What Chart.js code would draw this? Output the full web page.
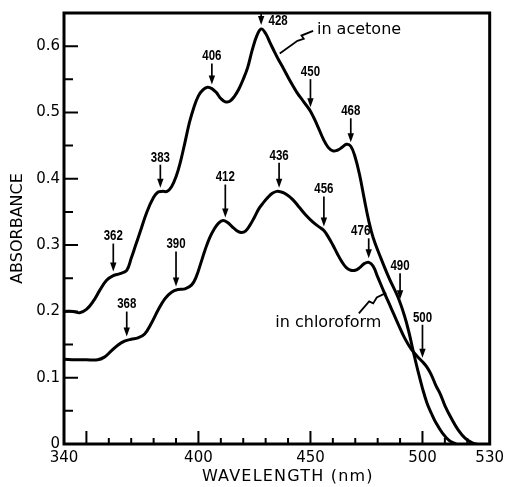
<!DOCTYPE html>
<html>
<head>
<meta charset="utf-8">
<script src="https://cdn.jsdelivr.net/npm/chart.js@4.4.0/dist/chart.umd.min.js"></script>
<style>
  body { margin: 0; background: #fff; }
  canvas { display: block; }
</style>
</head>
<body>
<canvas id="spectrum" width="509" height="487"></canvas>
<script>
// wavelength (nm) / absorbance
const acetoneNm  = [340, 344, 347, 350, 353, 356, 359, 362, 365, 368, 370, 372, 374, 377, 380, 382, 384, 386, 388, 390,
                    392, 394, 396, 398, 400, 402, 404, 406, 408, 410, 412, 414, 416, 418, 420, 422, 424, 426, 428, 430,
                    432, 434, 436, 438, 441, 444, 447, 450, 453, 456, 458, 460, 462, 464, 466, 468, 470, 472, 474, 476,
                    478, 481, 485, 489, 492, 494, 496, 498, 500, 502, 504, 506, 509, 512, 515];
const acetoneAbs = [.200, .200, .198, .203, .215, .232, .247, .254, .257, .262, .280, .300, .320, .350, .372, .380, .381, .381, .388, .403,
                    .426, .455, .485, .508, .525, .534, .538, .536, .530, .521, .516, .517, .524, .535, .550, .568, .594, .615, .626, .619,
                    .605, .591, .578, .566, .547, .530, .516, .502, .481, .458, .447, .442, .443, .447, .452, .449, .432, .405, .370, .337,
                    .311, .284, .251, .222, .193, .168, .138, .110, .084, .062, .046, .032, .016, .005, 0];

const chloroformNm  = [340, 345, 350, 355, 358, 361, 364, 367, 370, 373, 376, 379, 382, 385, 388, 391, 394, 397, 399, 401,
                       403, 405, 407, 409, 411, 413, 415, 417, 419, 421, 423, 425, 427, 429, 431, 433, 435, 437, 439, 442,
                       445, 448, 451, 454, 456, 458, 460, 462, 464, 466, 468, 470, 472, 474, 476, 478, 480, 483, 486, 489,
                       492, 495, 498, 500, 502, 504, 506, 508, 510, 513, 516, 519, 522, 524];
const chloroformAbs = [.128, .127, .127, .127, .131, .140, .149, .155, .158, .160, .166, .182, .202, .219, .229, .233, .234, .240, .252, .272,
                       .293, .311, .324, .333, .337, .334, .328, .322, .319, .321, .330, .342, .355, .364, .372, .378, .381, .380, .377, .369,
                       .357, .345, .335, .327, .322, .312, .300, .287, .275, .266, .262, .262, .266, .272, .274, .268, .252, .228, .205, .182,
                       .160, .143, .131, .124, .116, .104, .088, .075, .058, .038, .021, .009, .002, 0];

// marked band positions (nm)
const acetoneMarks    = [362, 383, 406, 428, 450, 468, 490];
const chloroformMarks = [368, 390, 412, 436, 456, 476, 500];

// axis labels
const xLabels = [340, 400, 450, 500, 530];
const yLabels = [0, 0.1, 0.2, 0.3, 0.4, 0.5, 0.6];

// annotation layout (px): label centre above arrow tip, sideways shift
const acetoneLift    = [35, 30, 28, 4, 35, 31, 33];
const chloroformLift = [32, 42, 40, 32, 37, 27, 40];
const labelShift = { 428: 17, 476: -8 };

function valueAt(nms, vals, nm) {
  for (let i = 1; i < nms.length; i++) {
    if (nm <= nms[i]) {
      const t = (nm - nms[i - 1]) / (nms[i] - nms[i - 1]);
      return vals[i - 1] + t * (vals[i] - vals[i - 1]);
    }
  }
  return vals[vals.length - 1];
}

function condText(ctx, txt, x, y) {
  ctx.save();
  ctx.translate(x, y);
  ctx.scale(0.82, 1);
  ctx.fillText(txt, 0, 0);
  ctx.restore();
}

const decor = {
  id: 'decor',
  afterDraw(chart) {
    const { ctx, chartArea: a, scales: { x, y } } = chart;
    ctx.save();
    ctx.strokeStyle = '#000';
    ctx.fillStyle = '#000';

    // frame
    ctx.lineWidth = 3;
    ctx.strokeRect(a.left, a.top, a.right - a.left, a.bottom - a.top);

    // inward ticks
    ctx.lineWidth = 2;
    ctx.beginPath();
    for (let v = 350; v < 530; v += 10) {
      const px = x.getPixelForValue(v);
      const len = v % 50 === 0 ? 13 : 6;
      ctx.moveTo(px, a.bottom);
      ctx.lineTo(px, a.bottom - len);
    }
    for (let k = 1; k <= 12; k++) {
      const py = y.getPixelForValue(k * 0.05);
      const len = k % 2 === 0 ? 14 : 9;
      ctx.moveTo(a.left, py);
      ctx.lineTo(a.left + len, py);
    }
    ctx.stroke();

    // arrows and band labels
    ctx.font = 'bold 14px "Liberation Sans", Arial, sans-serif';
    ctx.textAlign = 'center';
    ctx.textBaseline = 'middle';
    const drawMarks = (marks, lifts, nms, vals) => {
      marks.forEach((nm, i) => {
        const px = x.getPixelForValue(nm);
        const tip = y.getPixelForValue(valueAt(nms, vals, nm)) - 4;
        const shift = labelShift[nm] || 0;
        const ly = tip - lifts[i];
        const start = Math.abs(shift) > 12 ? a.top + 1 : ly + 7;
        ctx.lineWidth = 1.7;
        ctx.beginPath();
        ctx.moveTo(px, start);
        ctx.lineTo(px, tip - 6);
        ctx.stroke();
        ctx.beginPath();
        ctx.moveTo(px - 3.2, tip - 9);
        ctx.lineTo(px + 3.2, tip - 9);
        ctx.lineTo(px, tip);
        ctx.closePath();
        ctx.fill();
        condText(ctx, String(nm), px + shift, ly);
      });
    };
    drawMarks(acetoneMarks, acetoneLift, acetoneNm, acetoneAbs);
    drawMarks(chloroformMarks, chloroformLift, chloroformNm, chloroformAbs);

    // curve names with leader lines
    const P = (nm, v) => [x.getPixelForValue(nm), y.getPixelForValue(v)];
    const leader = pts => {
      ctx.lineWidth = 1.8;
      ctx.beginPath();
      pts.forEach(([nm, v], i) => {
        const [px, py] = P(nm, v);
        i ? ctx.lineTo(px, py) : ctx.moveTo(px, py);
      });
      ctx.stroke();
    };
    leader([[451.2, 0.623], [446.0, 0.616], [447.0, 0.611], [444.2, 0.608], [436.3, 0.589]]);
    leader([[471.6, 0.197], [476.2, 0.215], [478.0, 0.212], [479.6, 0.221], [483.8, 0.228]]);

    ctx.font = '16px "DejaVu Sans", sans-serif';
    ctx.textAlign = 'left';
    let [tx, ty] = P(452.9, 0.624);
    ctx.fillText('in acetone', tx, ty);
    [tx, ty] = P(434.3, 0.1825);
    ctx.fillText('in chloroform', tx, ty);

    // x axis title
    ctx.font = '16px "DejaVu Sans", sans-serif';
    ctx.letterSpacing = '1.2px';
    ctx.textAlign = 'center';
    ctx.fillText('WAVELENGTH (nm)', (a.left + a.right) / 2 + 11, 477);
    ctx.restore();
  }
};

const toPoints = (nms, vals) => nms.map((nm, i) => ({ x: nm, y: vals[i] }));

new Chart(document.getElementById('spectrum'), {
  type: 'line',
  data: {
    datasets: [
      { label: 'in acetone', data: toPoints(acetoneNm, acetoneAbs) },
      { label: 'in chloroform', data: toPoints(chloroformNm, chloroformAbs) }
    ]
  },
  options: {
    responsive: false,
    animation: false,
    layout: { padding: { top: 13, right: 16, bottom: 0, left: 0 } },
    elements: {
      line: { borderColor: '#000', borderWidth: 3, tension: 0.4, fill: false,
              borderJoinStyle: 'round', borderCapStyle: 'round' },
      point: { radius: 0 }
    },
    plugins: { legend: { display: false }, tooltip: { enabled: false } },
    scales: {
      x: {
        type: 'linear',
        min: 340,
        max: 530,
        afterBuildTicks: s => { s.ticks = xLabels.map(v => ({ value: v })); },
        afterFit: s => { s.height = 43; },
        grid: { display: false, drawTicks: false },
        border: { display: false },
        ticks: { color: '#000', padding: 5, maxRotation: 0, autoSkip: false,
                 font: { family: '"DejaVu Sans", sans-serif', size: 15 } }
      },
      y: {
        min: 0,
        max: 0.65,
        afterBuildTicks: s => { s.ticks = yLabels.map(v => ({ value: v })); },
        afterFit: s => { s.width = 64; },
        grid: { display: false, drawTicks: false },
        border: { display: false },
        title: { display: true, text: 'ABSORBANCE', color: '#000', padding: { top: 8, bottom: 0 },
                 font: { family: '"DejaVu Sans", sans-serif', size: 16 } },
        ticks: { color: '#000', padding: 4,
                 callback: v => v === 0 ? '0' : v.toFixed(1),
                 font: { family: '"DejaVu Sans", sans-serif', size: 15 } }
      }
    }
  },
  plugins: [decor]
});
</script>
</body>
</html>
